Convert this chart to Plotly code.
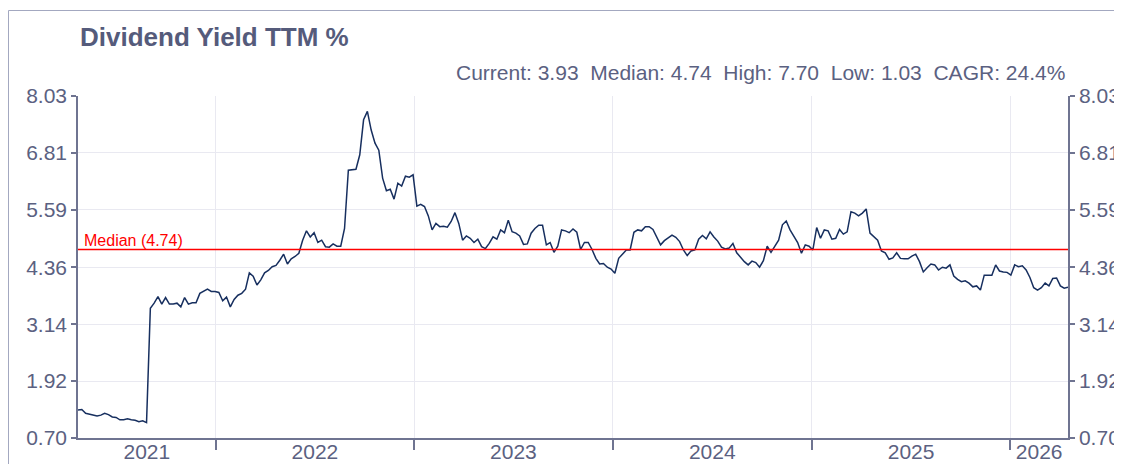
import pandas as pd
import plotly.graph_objects as go

# weekly readings, first week ending 2021-04-23
start_date = "2021-04-23"
yield_values = [
    1.30, 1.31, 1.23, 1.21, 1.19, 1.17, 1.19, 1.23, 1.20, 1.15,
    1.14, 1.09, 1.09, 1.11, 1.09, 1.08, 1.05, 1.07, 1.03, 3.48,
    3.59, 3.73, 3.57, 3.71, 3.57, 3.57, 3.59, 3.51, 3.71, 3.57,
    3.60, 3.60, 3.80, 3.84, 3.89, 3.84, 3.84, 3.82, 3.64, 3.72,
    3.51, 3.67, 3.76, 3.80, 3.89, 4.24, 4.17, 3.98, 4.09, 4.24,
    4.29, 4.37, 4.40, 4.51, 4.64, 4.43, 4.54, 4.59, 4.66, 4.94,
    5.14, 5.01, 5.10, 4.89, 4.94, 4.80, 4.79, 4.86, 4.81, 4.81,
    5.19, 6.44, 6.45, 6.46, 6.77, 7.52, 7.70, 7.30, 7.02, 6.87,
    6.27, 6.00, 6.03, 5.82, 6.16, 6.10, 6.31, 6.29, 6.34, 5.67,
    5.71, 5.66, 5.46, 5.16, 5.30, 5.23, 5.24, 5.22, 5.34, 5.53,
    5.30, 4.94, 5.03, 4.98, 4.89, 4.96, 4.80, 4.76, 4.87, 5.01,
    4.96, 5.16, 5.10, 5.37, 5.12, 5.09, 5.03, 4.85, 4.86, 5.09,
    5.19, 5.26, 5.26, 4.84, 4.89, 4.68, 4.81, 5.16, 5.14, 5.10,
    5.18, 5.11, 4.74, 4.89, 4.89, 4.74, 4.55, 4.43, 4.44, 4.36,
    4.32, 4.23, 4.55, 4.64, 4.73, 4.73, 5.11, 5.16, 5.14, 5.23,
    5.23, 5.17, 5.01, 4.84, 4.93, 5.00, 5.05, 5.00, 4.91, 4.73,
    4.61, 4.71, 4.73, 4.96, 5.04, 4.97, 5.12, 5.01, 4.92, 4.79,
    4.75, 4.77, 4.87, 4.67, 4.57, 4.48, 4.41, 4.49, 4.46, 4.36,
    4.50, 4.81, 4.68, 4.81, 4.94, 5.27, 5.35, 5.16, 5.01, 4.89,
    4.66, 4.84, 4.81, 4.73, 5.21, 4.98, 5.16, 5.14, 4.96, 4.98,
    5.17, 5.07, 5.12, 5.55, 5.52, 5.46, 5.52, 5.61, 5.09, 5.01,
    4.94, 4.71, 4.67, 4.53, 4.56, 4.67, 4.55, 4.54, 4.54, 4.60,
    4.64, 4.48, 4.26, 4.35, 4.43, 4.41, 4.30, 4.36, 4.34, 4.41,
    4.17, 4.10, 4.05, 4.07, 4.02, 3.94, 3.96, 3.87, 4.19, 4.19,
    4.19, 4.41, 4.28, 4.26, 4.25, 4.19, 4.41, 4.37, 4.39, 4.30,
    4.14, 3.92, 3.87, 3.92, 4.02, 3.96, 4.12, 4.13, 3.96, 3.91,
    3.93,
]
y_ticks = [0.70, 1.92, 3.14, 4.36, 5.59, 6.81, 8.03]
year_labels = ["2021", "2022", "2023", "2024", "2025", "2026"]
median_value = 4.74
stats = {"Current": "3.93", "Median": "4.74", "High": "7.70", "Low": "1.03", "CAGR": "24.4%"}

dates = pd.date_range(start_date, periods=len(yield_values), freq="7D")

# year boundaries get the tick marks/grid, labels sit mid-way through the visible part of each year
boundaries = [pd.Timestamp(f"{y}-01-01") for y in year_labels[1:]]
edges = [dates[0]] + boundaries + [dates[-1]]
label_pos = [a + (b - a) / 2 for a, b in zip(edges[:-1], edges[1:])]

FONT = "Liberation Sans, Arial, sans-serif"
TEXT = "#5b6181"
AXIS = "#6f7491"
GRID = "#e9e9f1"

fig = go.Figure()
fig.add_trace(go.Scatter(
    x=dates, y=yield_values, mode="lines",
    line=dict(color="#172f5f", width=1.5), showlegend=False,
))
# invisible copy so the right-hand axis and the label axis get drawn
fig.add_trace(go.Scatter(
    x=dates, y=yield_values, mode="lines", xaxis="x2", yaxis="y2",
    line=dict(color="rgba(0,0,0,0)"), showlegend=False, hoverinfo="skip",
))

y_common = dict(
    range=[y_ticks[0], y_ticks[-1]],
    tickvals=y_ticks,
    ticktext=[f"{v:.2f}" for v in y_ticks],
    showline=True, linecolor=AXIS, linewidth=1.5,
    ticks="outside", ticklen=5, tickcolor=AXIS, tickwidth=1.5,
    tickfont=dict(size=21, color=TEXT, family=FONT),
    zeroline=False, automargin=False,
)
x_range = [dates[0], dates[-1]]

fig.update_layout(
    width=1122, height=464,
    margin=dict(l=70, r=62, t=88, b=34),
    paper_bgcolor="white", plot_bgcolor="white",
    font=dict(family=FONT, color=TEXT),
    xaxis=dict(
        range=x_range, tickvals=boundaries, showticklabels=False,
        showline=True, linecolor=AXIS, linewidth=1.5,
        ticks="outside", ticklen=10, tickcolor=AXIS, tickwidth=1.5,
        showgrid=True, gridcolor=GRID, gridwidth=1,
        zeroline=False, automargin=False,
    ),
    xaxis2=dict(
        range=x_range, overlaying="x", side="bottom", anchor="y",
        tickvals=label_pos, ticktext=year_labels,
        ticks="", ticklabelstandoff=-1,
        showline=False, showgrid=False, zeroline=False, automargin=False,
        tickfont=dict(size=21, color=TEXT, family=FONT),
    ),
    yaxis=dict(**y_common, showgrid=True, gridcolor=GRID, gridwidth=1),
    yaxis2=dict(**y_common, overlaying="y", side="right", anchor="x", showgrid=False),
    shapes=[
        dict(type="rect", xref="paper", yref="paper", x0=-0.0702, x1=1.2, y0=-0.3, y1=1.25,
             line=dict(color="#a3a8c0", width=1)),
        dict(type="line", xref="paper", yref="y", x0=0, x1=1, y0=median_value, y1=median_value,
             line=dict(color="#ff0000", width=1.5)),
    ],
    annotations=[
        dict(text="<b>Dividend Yield TTM %</b>", xref="paper", yref="paper",
             x=0.0, y=1.1725, xanchor="left", yanchor="middle", showarrow=False,
             font=dict(size=26, color="#555b7b", family=FONT)),
        dict(text="\u00a0\u00a0".join(f"{k}: {v}" for k, v in stats.items()),
             xref="paper", yref="paper", x=0.999, y=1.07, xanchor="right", yanchor="middle",
             showarrow=False, font=dict(size=21, color=TEXT, family=FONT)),
        dict(text=f"Median ({median_value:.2f})", xref="paper", yref="y",
             x=0.004, y=median_value, xanchor="left", yanchor="bottom", yshift=-1,
             showarrow=False, font=dict(size=16, color="#ff0000", family=FONT)),
    ],
)

fig.write_html("out.html")
